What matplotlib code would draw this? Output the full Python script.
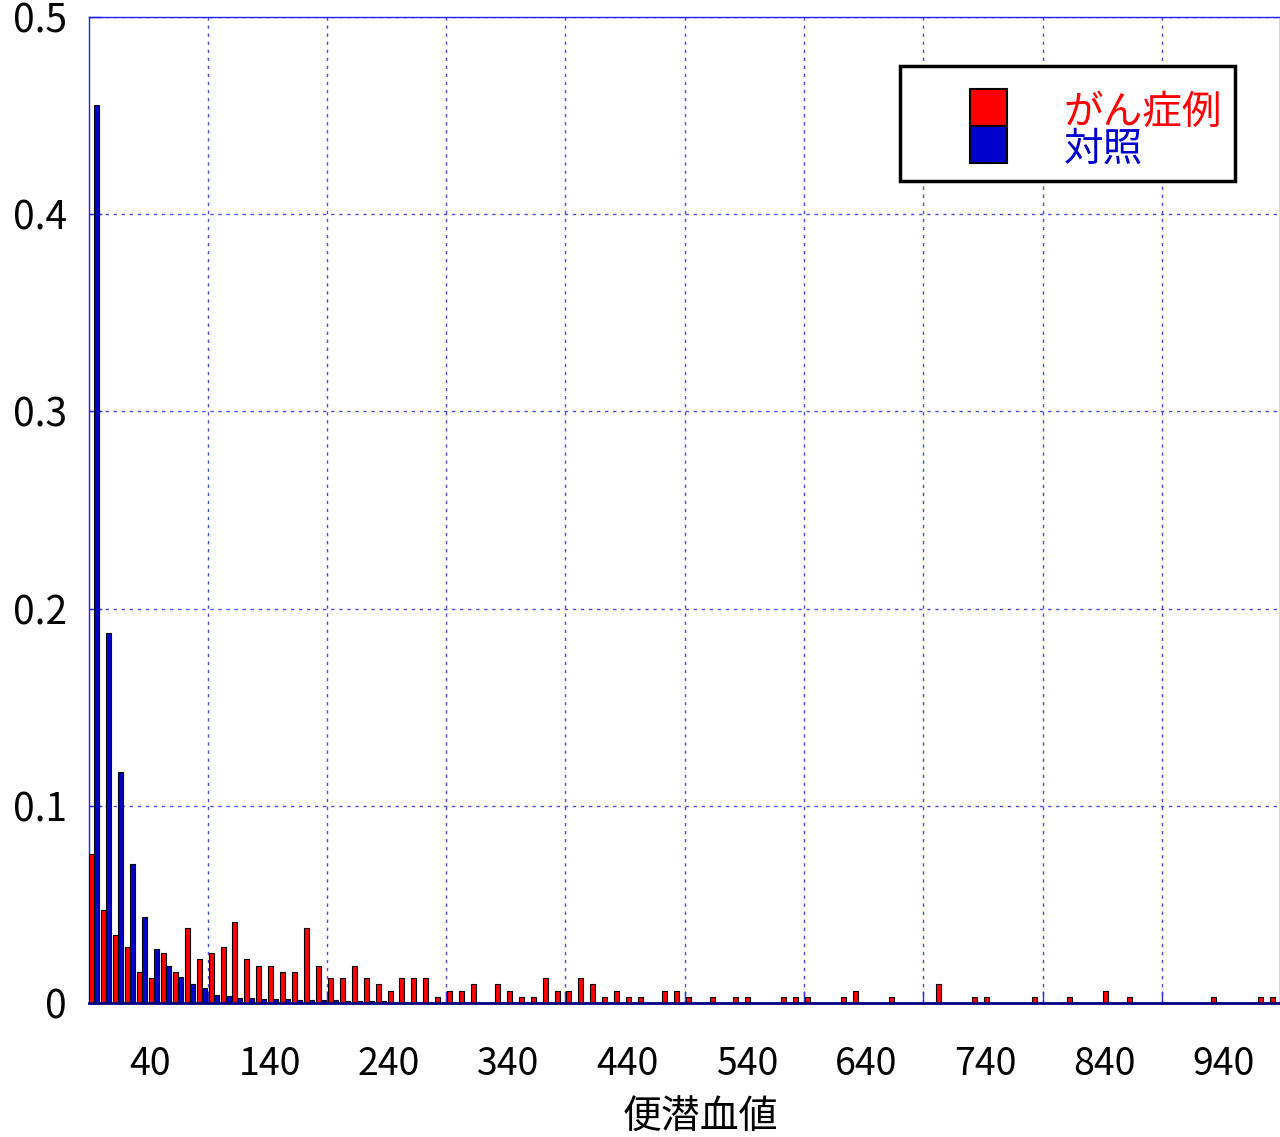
import matplotlib
matplotlib.use('Agg')
import matplotlib.pyplot as plt
import numpy as np
from matplotlib.patches import Rectangle

plt.rcParams['font.family'] = ['Noto Sans CJK JP', 'DejaVu Sans']

# bin positions (10 wide bins)
bins = np.arange(0, 1000, 10)

# fraction of cancer cases per bin
cancer = [0.0757, 0.0473, 0.0347, 0.0284, 0.0158, 0.0126, 0.0252, 0.0158, 0.0379, 0.0221,
          0.0252, 0.0284, 0.0410, 0.0221, 0.0189, 0.0189, 0.0158, 0.0158, 0.0379, 0.0189,
          0.0126, 0.0126, 0.0189, 0.0126, 0.0095, 0.0063, 0.0126, 0.0126, 0.0126, 0.0032,
          0.0063, 0.0063, 0.0095, 0.0, 0.0095, 0.0063, 0.0032, 0.0032, 0.0126, 0.0063,
          0.0063, 0.0126, 0.0095, 0.0032, 0.0063, 0.0032, 0.0032, 0.0, 0.0063, 0.0063,
          0.0032, 0.0, 0.0032, 0.0, 0.0032, 0.0032, 0.0, 0.0, 0.0032, 0.0032,
          0.0032, 0.0, 0.0, 0.0032, 0.0063, 0.0, 0.0, 0.0032, 0.0, 0.0,
          0.0, 0.0095, 0.0, 0.0, 0.0032, 0.0032, 0.0, 0.0, 0.0, 0.0032,
          0.0, 0.0, 0.0032, 0.0, 0.0, 0.0063, 0.0, 0.0032, 0.0, 0.0,
          0.0, 0.0, 0.0, 0.0, 0.0032, 0.0, 0.0, 0.0, 0.0032, 0.0032]

# fraction of controls per bin
control = [0.4552, 0.1875, 0.1173, 0.0705, 0.0434, 0.0272, 0.0188, 0.0132, 0.0095, 0.0076,
           0.0042, 0.0035, 0.0025, 0.0025, 0.0019, 0.0019, 0.0019, 0.0015, 0.0015, 0.0013,
           0.0013, 0.0010, 0.0010, 0.0010, 0.0010] + [0.0] * 75

xtick_labels = ['40', '140', '240', '340', '440', '540', '640', '740', '840', '940']
ytick_labels = ['0', '0.1', '0.2', '0.3', '0.4', '0.5']

fig = plt.figure(figsize=(12.8, 11.37), dpi=100)
ax = fig.add_axes([0.0695, 0.1179, 0.9305, 0.8671])

w = 4.2
ax.bar(bins - w / 2, cancer, w, color='#ff0000', edgecolor='black', linewidth=0.8, zorder=3)
ax.bar(bins + w / 2, control, w, color='#0000cc', edgecolor='black', linewidth=0.8, zorder=3)

ax.set_xlim(-4.5, 994)
ax.set_ylim(0, 0.5)

# grid lines sit between the labels
ax.set_xticks(np.arange(95, 900, 100))
ax.set_xticklabels([])
ax.set_xticks(np.arange(47, 950, 100), minor=True)
ax.set_xticklabels(xtick_labels, minor=True)
ax.set_yticks(np.arange(0, 0.51, 0.1))
ax.set_yticklabels(ytick_labels)

ax.tick_params(axis='x', which='major', direction='in', length=9, color='#3030e0', width=1)
ax.tick_params(axis='x', which='minor', length=0, pad=30, labelsize=27)
ax.tick_params(axis='y', direction='in', length=9, color='#3030e0', width=1,
               pad=16, labelsize=28)

ax.grid(True, which='major', color='#4a4ae6', linewidth=1.0,
        linestyle=(0, (2.4, 3.4)), zorder=1)

for side in ['left', 'top', 'right']:
    ax.spines[side].set_color('#2020ee')
    ax.spines[side].set_linewidth(1.0)
ax.spines['bottom'].set_color('#000080')
ax.spines['bottom'].set_linewidth(2.0)
ax.spines['bottom'].set_zorder(4)

ax.set_xlabel('便潜血値', fontsize=28)
ax.xaxis.set_label_coords(0.513, -0.096)
ax.xaxis.label.set_va('top')

# legend drawn by hand: stacked colour boxes with coloured labels
fig.patches.append(Rectangle((0.7031, 0.8408), 0.2617, 0.1012, transform=fig.transFigure,
                             facecolor='white', edgecolor='black', linewidth=2.5, zorder=10))
fig.patches.append(Rectangle((0.7578, 0.8892), 0.0289, 0.0325, transform=fig.transFigure,
                             facecolor='#ff0000', edgecolor='black', linewidth=1.5, zorder=11))
fig.patches.append(Rectangle((0.7578, 0.8566), 0.0289, 0.0326, transform=fig.transFigure,
                             facecolor='#0000cc', edgecolor='black', linewidth=1.5, zorder=11))
fig.text(0.831, 0.9006, 'がん症例', color='#ff0000', fontsize=28.5, va='center', ha='left', zorder=12)
fig.text(0.831, 0.8681, '対照', color='#0000cc', fontsize=28.5, va='center', ha='left', zorder=12)

plt.savefig('out.png', dpi=100)
